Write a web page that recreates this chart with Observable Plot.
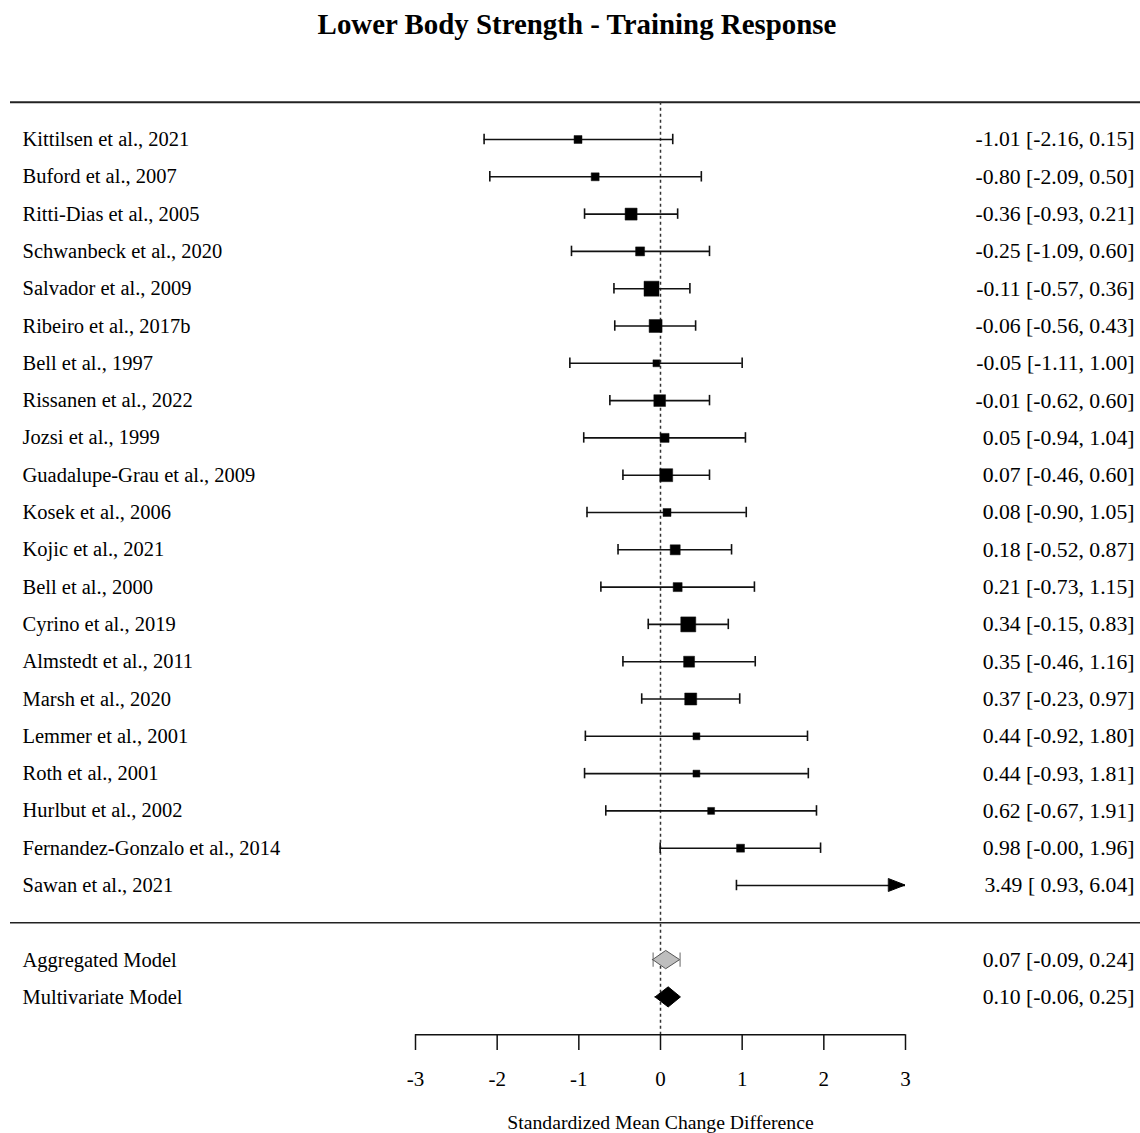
<!DOCTYPE html>
<html>
<head>
<meta charset="utf-8">
<script src="https://cdn.jsdelivr.net/npm/d3@7"></script>
<script src="https://cdn.jsdelivr.net/npm/@observablehq/plot@0.6"></script>
<style>
  body { margin: 0; background: #fff; }
  #title { height: 50px; line-height: 48px; padding-left: 14px; text-align: center;
           font-family: "Liberation Serif", serif; font-weight: bold; font-size: 28.9px; color: #000; }
  #chart svg { display: block; }
</style>
</head>
<body>
<div id="title">Lower Body Strength - Training Response</div>
<div id="chart"></div>
<script>
const studies = [
  "Kittilsen et al., 2021", "Buford et al., 2007", "Ritti-Dias et al., 2005", "Schwanbeck et al., 2020",
  "Salvador et al., 2009", "Ribeiro et al., 2017b", "Bell et al., 1997", "Rissanen et al., 2022",
  "Jozsi et al., 1999", "Guadalupe-Grau et al., 2009", "Kosek et al., 2006", "Kojic et al., 2021",
  "Bell et al., 2000", "Cyrino et al., 2019", "Almstedt et al., 2011", "Marsh et al., 2020",
  "Lemmer et al., 2001", "Roth et al., 2001", "Hurlbut et al., 2002", "Fernandez-Gonzalo et al., 2014",
  "Sawan et al., 2021"
];
const estimates = [-1.01, -0.80, -0.36, -0.25, -0.11, -0.06, -0.05, -0.01, 0.05, 0.07, 0.08, 0.18, 0.21, 0.34, 0.35, 0.37, 0.44, 0.44, 0.62, 0.98, 3.49];
const ciLower   = [-2.16, -2.09, -0.93, -1.09, -0.57, -0.56, -1.11, -0.62, -0.94, -0.46, -0.90, -0.52, -0.73, -0.15, -0.46, -0.23, -0.92, -0.93, -0.67, -0.004, 0.93];
const ciUpper   = [0.15, 0.50, 0.21, 0.60, 0.36, 0.43, 1.00, 0.60, 1.04, 0.60, 1.05, 0.87, 1.15, 0.83, 1.16, 0.97, 1.80, 1.81, 1.91, 1.96, 6.04];
const weights   = [2.9, 2.9, 6.6, 3.7, 10.3, 7.7, 2.2, 6.3, 3.7, 7.7, 2.9, 4.6, 3.7, 10.3, 5.5, 6.6, 2.2, 2.2, 2.2, 2.9, 2.2];

const summaryLabels = ["Aggregated Model", "Multivariate Model"];
const summaryEst    = [0.07, 0.10];
const summaryLower  = [-0.09, -0.06];
const summaryUpper  = [0.24, 0.25];
const summaryFill   = ["#bebebe", "#000000"];

const xTicks = [-3, -2, -1, 0, 1, 2, 3];
const xDomain = [-3, 3];
const xLabel = "Standardized Mean Change Difference";

const fmt = (e, l, u) => `${e.toFixed(2)} [${l >= 0 ? " " : ""}${l.toFixed(2)}, ${u.toFixed(2)}]`;

const rows = studies.map((label, i) => ({
  label, row: i, est: estimates[i], lo: ciLower[i], hi: ciUpper[i], w: weights[i],
  text: fmt(estimates[i], ciLower[i], ciUpper[i])
}));
const firstSummaryRow = studies.length + 1;
const summ = summaryLabels.map((label, j) => ({
  label, row: firstSummaryRow + j, est: summaryEst[j], lo: summaryLower[j], hi: summaryUpper[j],
  fill: summaryFill[j], text: fmt(summaryEst[j], summaryLower[j], summaryUpper[j])
}));
const topRow = -1, sepRow = studies.length, axisRow = firstSummaryRow + summ.length;

const [xmin, xmax] = xDomain;
const capH = 0.14;
const diamondH = [0.245, 0.27];
const diamondPts = summ.flatMap((d, j) => [
  {z: d.label, fill: d.fill, x: d.lo, y1: d.row, y2: d.row},
  {z: d.label, fill: d.fill, x: d.est, y1: d.row - diamondH[j], y2: d.row + diamondH[j]},
  {z: d.label, fill: d.fill, x: d.hi, y1: d.row, y2: d.row}
]);
const arrowLen = 0.2, arrowH = 0.17;
const arrowPts = rows.filter(d => d.hi > xmax).flatMap(d => [
  {z: d.label, x: xmax - arrowLen, y1: d.row - arrowH, y2: d.row + arrowH},
  {z: d.label, x: xmax, y1: d.row, y2: d.row}
]);
const inside = rows.filter(d => d.est >= xmin && d.est <= xmax);

const font = "Liberation Serif";
const plot = Plot.plot({
  width: 1140,
  height: 1083,
  marginLeft: 10,
  marginRight: 0,
  marginTop: 51.7,
  marginBottom: 98.8,
  x: {domain: xDomain, range: [415, 905], axis: null},
  y: {domain: [topRow, axisRow], reverse: true, axis: null},
  r: {type: "sqrt", domain: [0, 10], range: [0, 8.34]},
  style: {fontFamily: font, fontSize: "21px", color: "#000", background: "#fff"},
  marks: [
    Plot.ruleY([topRow], {stroke: "#222", strokeWidth: 2}),
    Plot.ruleY([sepRow], {stroke: "#222", strokeWidth: 1.5}),
    Plot.ruleX([0], {y1: topRow, y2: axisRow, stroke: "#333", strokeWidth: 1.5, strokeDasharray: "3,3"}),
    // CI whiskers
    Plot.ruleY(rows, {y: "row", x1: d => Math.max(d.lo, xmin), x2: d => Math.min(d.hi, xmax), stroke: "#111", strokeWidth: 1.6}),
    Plot.ruleX(rows.filter(d => d.lo >= xmin), {x: "lo", y1: d => d.row - capH, y2: d => d.row + capH, stroke: "#111", strokeWidth: 1.6}),
    Plot.ruleX(rows.filter(d => d.hi <= xmax), {x: "hi", y1: d => d.row - capH, y2: d => d.row + capH, stroke: "#111", strokeWidth: 1.6}),
    Plot.areaY(arrowPts, {x: "x", y1: "y1", y2: "y2", z: "z", fill: "#000", stroke: "#000", strokeWidth: 1}),
    Plot.dot(inside, {x: "est", y: "row", r: "w", symbol: "square", fill: "#000", stroke: "#111", strokeWidth: 0.5}),
    // summary diamonds
    Plot.ruleX(summ.filter((d, j) => j === 0).flatMap(d => [d.lo, d.hi].map(x => ({x, row: d.row}))),
      {x: "x", y1: d => d.row - 0.19, y2: d => d.row + 0.19, stroke: "#999", strokeWidth: 1.5}),
    Plot.ruleY(summ.filter((d, j) => j === 0), {y: "row", x1: "lo", x2: "hi", stroke: "#999", strokeWidth: 1}),
    Plot.areaY(diamondPts, {x: "x", y1: "y1", y2: "y2", z: "z", fill: d => d.fill, stroke: d => d.fill === "#000000" ? "#000" : "#555", strokeWidth: 1}),
    // labels
    Plot.text([...rows, ...summ], {y: "row", text: "label", frameAnchor: "left", dx: 12, textAnchor: "start", fontSize: 20.5, fill: "#000"}),
    Plot.text([...rows, ...summ], {y: "row", text: "text", frameAnchor: "right", dx: -6, textAnchor: "end", fontSize: 21.7, fill: "#000"}),
    // axis
    Plot.ruleY([axisRow], {x1: xmin, x2: xmax, stroke: "#111", strokeWidth: 1.5}),
    Plot.axisX({anchor: "bottom", ticks: xTicks, tickSize: 15.8, tickPadding: 20.5, tickFormat: d => String(d),
      fontSize: 21, stroke: "#111", strokeWidth: 1.5, fill: "#000", label: null}),
    Plot.text([xLabel], {x: d3.mean(xDomain), frameAnchor: "bottom", dy: 88, text: d => d, fontSize: 19.7, fill: "#000", lineAnchor: "middle"})
  ]
});
document.getElementById("chart").appendChild(plot);
</script>
</body>
</html>
